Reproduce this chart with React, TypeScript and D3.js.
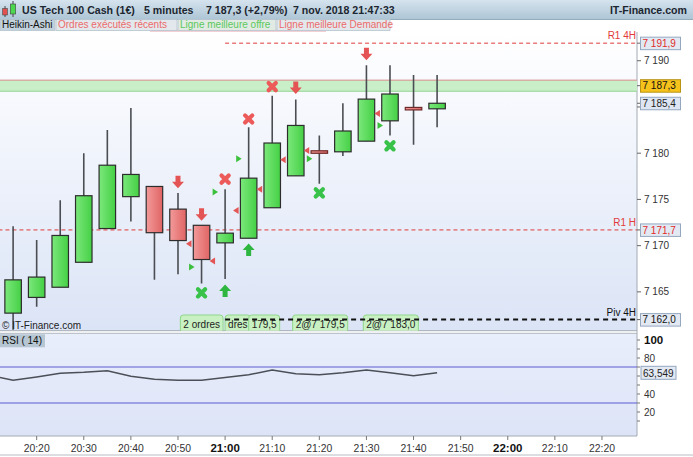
import * as d3 from 'd3';
import { useEffect, useRef } from 'react';

const WIDTH = 693;
const HEIGHT = 457;

// Heikin-Ashi candles, 5 minutes
const candleTimes = ['20:15', '20:20', '20:25', '20:30', '20:35', '20:40', '20:45', '20:50', '20:55', '21:00', '21:05', '21:10', '21:15', '21:20', '21:25', '21:30', '21:35', '21:40', '21:45'];
const openValues = [7162.7, 7164.4, 7165.5, 7168.2, 7171.85, 7175.3, 7176.4, 7173.95, 7172.2, 7170.3, 7170.8, 7174.1, 7177.55, 7180.26, 7180.15, 7181.3, 7183.5, 7184.95, 7184.8];
const highValues = [7172.1, 7170.6, 7174.9, 7180.0, 7182.5, 7184.9, 7176.4, 7175.7, 7172.2, 7176.1, 7182.8, 7186.2, 7185.8, 7181.9, 7185.4, 7189.5, 7189.5, 7188.45, 7188.45];
const lowValues = [7160.9, 7163.4, 7165.5, 7168.2, 7171.85, 7172.6, 7166.3, 7166.9, 7165.9, 7166.4, 7170.8, 7174.1, 7177.55, 7176.7, 7179.7, 7181.3, 7181.9, 7180.9, 7182.8];
const closeValues = [7166.3, 7166.6, 7171.1, 7175.4, 7178.7, 7177.7, 7171.4, 7170.55, 7168.5, 7171.35, 7177.3, 7181.1, 7183.0, 7180.0, 7182.4, 7185.85, 7186.4, 7184.7, 7185.4];

// RSI (14)
const rsiTimes = ['20:10', ...candleTimes];
const rsiValues = [60.8, 55.2, 58.9, 63.0, 64.1, 65.9, 59.7, 56.3, 55.2, 55.2, 58.3, 61.4, 66.7, 62.6, 61.4, 63.7, 66.7, 63.7, 60.3, 63.549];
const rsiBands = [70, 30];
const rsiTicks = [10, 20, 30, 40, 50, 60, 70, 80, 90, 100];
const rsiTickLabels = [100, 80, 40, 20];

const priceTicks = [7165, 7170, 7175, 7180, 7185, 7190];
const priceTickLabels = [7165, 7170, 7175, 7180, 7190]; // 7 185 sits under the last close box

// order markers
const sellArrowTimes = ['20:50', '20:55', '21:15', '21:30'];
const sellArrowPrices = [7176.8, 7173.3, 7187.0, 7190.65];
const buyArrowTimes = ['21:00', '21:05'];
const buyArrowPrices = [7165.2, 7169.65];
const redCrossTimes = ['21:00', '21:05', '21:10'];
const redCrossPrices = [7177.2, 7183.7, 7187.2];
const greenCrossTimes = ['20:55', '21:20', '21:35'];
const greenCrossPrices = [7164.9, 7175.7, 7180.8];
const buyTriTimes = ['20:55', '21:00', '21:05', '21:20', '21:35'];
const buyTriPrices = [7167.7, 7175.8, 7179.4, 7179.4, 7183.0];
const sellTriTimes = ['20:50', '20:55', '21:00', '21:05', '21:10', '21:15', '21:30'];
const sellTriPrices = [7170.2, 7168.35, 7173.8, 7176.1, 7179.3, 7180.3, 7184.3];

const orderTimes = ['20:50:30', '21:00', '21:05', '21:14:20', '21:29:20'];
const orderLabels = ['2 ordres', 'dres', '179,5', '2@7 179,5', '2@7 183,0'];

// levels
const levelNames = ['R1 4H', 'R1 H', 'Piv 4H'];
const levelValues = [7191.9, 7171.7, 7162.0];
const levelStarts = ['21:00', '20:00', '21:00'];
const bestAsk = 7187.9;
const bestBid = 7186.7;
const lastPrice = 7187.3;
const lastClose = 7185.4;
const lastRsi = 63.549;

const locale = d3.formatLocale({ decimal: ',', thousands: '\u00a0', grouping: [3], currency: ['', ''] });
const fmtTick = locale.format(',.0f');
const fmtPrice = locale.format(',.1f');
const fmtRsi = locale.format('.3f');

const parseTime = (s: string) =>
  d3.timeParse('%Y-%m-%d %H:%M:%S')('2018-11-07 ' + (s.length === 5 ? s + ':00' : s)) as Date;

const FONT = "'Liberation Sans', Arial, sans-serif";

function App() {
  const svgElement = useRef<SVGSVGElement | null>(null);

  useEffect(() => {
    document.body.style.margin = '0';
    const svg = d3.select(svgElement.current);
    svg.selectAll('*').remove();

    const plotRight = 637;
    const priceTop = 30;
    const priceBottom = 330.7;
    const rsiTop = 333.3;
    const rsiBottom = 436;

    const x = d3.scaleTime().domain([parseTime('20:12:13'), parseTime('22:27:26')]).range([0, plotRight]);
    const y = d3.scaleLinear().domain([7160.8, 7193.0]).range([priceBottom, 33]);
    const ry = d3.scaleLinear().domain([0, 100]).range([430, 340]);

    const defs = svg.append('defs');
    const grad = (id: string, stops: [string, string], horizontal = false) => {
      const g = defs.append('linearGradient').attr('id', id)
        .attr('x1', 0).attr('y1', 0).attr('x2', horizontal ? 1 : 0).attr('y2', horizontal ? 0 : 1);
      g.append('stop').attr('offset', '0%').attr('stop-color', stops[0]);
      g.append('stop').attr('offset', '100%').attr('stop-color', stops[1]);
    };
    grad('hdr', ['#d5e3ee', '#adc5d5']);
    grad('pricebg', ['#ffffff', '#dbe4f6']);
    grad('rsibg', ['#e9eefb', '#dde4f7']);
    grad('up', ['#7be87b', '#45d045'], true);
    grad('down', ['#f39a9a', '#e06464'], true);
    defs.append('clipPath').attr('id', 'priceClip')
      .append('rect').attr('x', 0).attr('y', priceTop).attr('width', plotRight).attr('height', priceBottom - priceTop);
    defs.append('clipPath').attr('id', 'rsiClip')
      .append('rect').attr('x', 0).attr('y', rsiTop).attr('width', plotRight).attr('height', rsiBottom - rsiTop);

    svg.append('rect').attr('width', WIDTH).attr('height', HEIGHT).attr('fill', '#ffffff');

    // Header
    svg.append('rect').attr('width', WIDTH).attr('height', 19.5).attr('fill', 'url(#hdr)');
    svg.append('line').attr('x1', 0).attr('x2', WIDTH).attr('y1', 19.5).attr('y2', 19.5).attr('stroke', '#93abbb');
    const icon = svg.append('g');
    icon.append('line').attr('x1', 5).attr('x2', 5).attr('y1', 6).attr('y2', 17).attr('stroke', '#444');
    icon.append('rect').attr('x', 2.7).attr('y', 8.5).attr('width', 4.6).attr('height', 6.5).attr('fill', '#e25050').attr('stroke', '#444').attr('stroke-width', 0.6);
    icon.append('line').attr('x1', 13).attr('x2', 13).attr('y1', 1).attr('y2', 17).attr('stroke', '#444');
    icon.append('rect').attr('x', 10.3).attr('y', 4).attr('width', 5.4).attr('height', 10).attr('fill', '#4cd84c').attr('stroke', '#444').attr('stroke-width', 0.6);

    const headerTexts: [string, number][] = [
      ['US Tech 100 Cash (1€)', 22],
      ['5 minutes', 144],
      [`${fmtPrice(lastPrice)} (+2,79%)`, 206],
      ['7 nov. 2018 21:47:33', 293],
    ];
    headerTexts.forEach(([t, tx]) => {
      svg.append('text').attr('x', tx).attr('y', 14).text(t)
        .attr('font-family', FONT).attr('font-size', 10.6).attr('font-weight', 700).attr('fill', '#1c2630');
    });
    svg.append('text').attr('x', 687).attr('y', 14).attr('text-anchor', 'end').text('IT-Finance.com')
      .attr('font-family', FONT).attr('font-size', 10.6).attr('font-weight', 700).attr('fill', '#1c2630');

    // legend tabs
    const tabs: [string, number, number, string, string][] = [
      ['Heikin-Ashi', 0, 55, '#111', '#c2d1db'],
      ['Ordres exécutés récents', 56, 177, '#ec6b6b', '#e3e8ec'],
      ['Ligne meilleure offre', 178, 276, '#5cc85c', '#e1ebe4'],
      ['Ligne meilleure Demande', 277, 390, '#ec6b6b', '#e3e8ec'],
    ];
    svg.append('rect').attr('x', 150).attr('y', 29).attr('width', 176).attr('height', 6).attr('rx', 3)
      .attr('fill', '#f0c4ca').attr('opacity', 0.8);
    tabs.forEach(([t, x0, x1, col, bg]) => {
      svg.append('rect').attr('x', x0).attr('y', 19.5).attr('width', x1 - x0).attr('height', 11)
        .attr('fill', bg).attr('stroke', '#b5c4ce').attr('stroke-width', 0.8);
      svg.append('text').attr('x', x0 + 2).attr('y', 28.3).text(t)
        .attr('font-family', FONT).attr('font-size', 10).attr('fill', col);
    });

    // panels
    svg.append('rect').attr('x', 0).attr('y', priceTop + 2).attr('width', plotRight).attr('height', priceBottom - priceTop - 2).attr('fill', 'url(#pricebg)');
    svg.append('rect').attr('x', 0).attr('y', rsiTop).attr('width', plotRight).attr('height', rsiBottom - rsiTop).attr('fill', 'url(#rsibg)');
    svg.append('line').attr('x1', 0).attr('x2', plotRight).attr('y1', priceBottom).attr('y2', priceBottom).attr('stroke', '#a3aab3');
    svg.append('line').attr('x1', 0).attr('x2', plotRight).attr('y1', rsiTop).attr('y2', rsiTop).attr('stroke', '#b0b7c0');
    svg.append('line').attr('x1', 0).attr('x2', plotRight).attr('y1', rsiBottom).attr('y2', rsiBottom).attr('stroke', '#a3aab3');
    svg.append('line').attr('x1', plotRight).attr('x2', plotRight).attr('y1', priceTop + 2).attr('y2', rsiBottom).attr('stroke', '#a3aab3');
    svg.append('line').attr('x1', 0).attr('x2', WIDTH).attr('y1', 455).attr('y2', 455).attr('stroke', '#b8bcc2');

    const price = svg.append('g').attr('clip-path', 'url(#priceClip)');

    // bid / ask band
    price.append('rect').attr('x', 0).attr('y', y(bestAsk)).attr('width', plotRight).attr('height', y(bestBid) - y(bestAsk))
      .attr('fill', '#c9efc9');
    price.append('line').attr('x1', 0).attr('x2', plotRight).attr('y1', y(bestAsk)).attr('y2', y(bestAsk)).attr('stroke', '#d98c8c');
    price.append('line').attr('x1', 0).attr('x2', plotRight).attr('y1', y(bestBid)).attr('y2', y(bestBid)).attr('stroke', '#92d692');

    // red resistance lines
    [0, 1].forEach((i) => {
      price.append('line')
        .attr('x1', x(parseTime(levelStarts[i]))).attr('x2', plotRight)
        .attr('y1', y(levelValues[i])).attr('y2', y(levelValues[i]))
        .attr('stroke', '#e03c3c').attr('stroke-dasharray', '4,3');
    });

    // candles
    const candles = candleTimes.map((t, i) => ({
      t: parseTime(t), o: openValues[i], h: highValues[i], l: lowValues[i], c: closeValues[i],
    }));
    const bodyW = 16.5;
    price.selectAll('.wick').data(candles).join('line').attr('class', 'wick')
      .attr('x1', (d) => x(d.t)).attr('x2', (d) => x(d.t))
      .attr('y1', (d) => y(d.h)).attr('y2', (d) => y(d.l))
      .attr('stroke', '#4a4d52').attr('stroke-width', 1.6);
    price.selectAll('.body').data(candles).join('rect').attr('class', 'body')
      .attr('x', (d) => x(d.t) - bodyW / 2)
      .attr('y', (d) => y(Math.max(d.o, d.c)))
      .attr('width', bodyW)
      .attr('height', (d) => Math.max(2.5, Math.abs(y(d.o) - y(d.c))))
      .attr('fill', (d) => (d.c >= d.o ? 'url(#up)' : 'url(#down)'))
      .attr('stroke', (d) => (d.c >= d.o ? '#2d2d2d' : Math.abs(d.o - d.c) < 0.5 ? '#6e2a2a' : '#2d2d2d'))
      .attr('stroke-width', 1.2);

    // markers
    const pts = (times: string[], prices: number[]) => times.map((t, i) => ({ x: x(parseTime(t)), y: y(prices[i]) }));
    pts(sellArrowTimes, sellArrowPrices).forEach((p) => {
      price.append('path')
        .attr('d', `M${p.x - 2.5},${p.y - 7}h5v6h3.5l-6,6.5l-6,-6.5h3.5z`)
        .attr('fill', '#e55454');
    });
    pts(buyArrowTimes, buyArrowPrices).forEach((p) => {
      price.append('path')
        .attr('d', `M${p.x - 2.5},${p.y + 7}h5v-6h3.5l-6,-6.5l-6,6.5h3.5z`)
        .attr('fill', '#2fb640');
    });
    const cross = (p: { x: number; y: number }, col: string) => {
      price.append('path')
        .attr('d', `M${p.x - 3.6},${p.y - 3.6}L${p.x + 3.6},${p.y + 3.6}M${p.x + 3.6},${p.y - 3.6}L${p.x - 3.6},${p.y + 3.6}`)
        .attr('stroke', col).attr('stroke-width', 4.2).attr('stroke-linecap', 'round');
    };
    pts(redCrossTimes, redCrossPrices).forEach((p) => cross(p, '#ec5a5a'));
    pts(greenCrossTimes, greenCrossPrices).forEach((p) => cross(p, '#38c24a'));
    pts(buyTriTimes, buyTriPrices).forEach((p) => {
      const cx = p.x - 10;
      price.append('path').attr('d', `M${cx - 2.5},${p.y - 3.5}L${cx + 3},${p.y}L${cx - 2.5},${p.y + 3.5}z`).attr('fill', '#3cc03c');
    });
    pts(sellTriTimes, sellTriPrices).forEach((p) => {
      const cx = p.x + 11;
      price.append('path').attr('d', `M${cx + 2.5},${p.y - 3.5}L${cx - 3},${p.y}L${cx + 2.5},${p.y + 3.5}z`).attr('fill', '#e45656');
    });

    // watermark
    price.append('text').attr('x', 2).attr('y', 328.5).text('© IT-Finance.com')
      .attr('font-family', FONT).attr('font-size', 10).attr('fill', '#222');

    // recent orders boxes
    orderTimes.forEach((t, i) => {
      const g = price.append('g');
      const bx = x(parseTime(t));
      const rect = g.append('rect');
      const txt = g.append('text').attr('x', bx + 3).attr('y', 327.5).text(orderLabels[i])
        .attr('font-family', FONT).attr('font-size', 10).attr('fill', '#1d1d1d');
      const w = (txt.node() as SVGTextElement).getComputedTextLength() + 6;
      rect.attr('x', bx).attr('y', 315).attr('width', w).attr('height', 18).attr('rx', 3)
        .attr('fill', '#c8f0c2').attr('stroke', '#8fd68a');
    });

    // pivot line (over boxes)
    price.append('line')
      .attr('x1', x(parseTime(levelStarts[2]))).attr('x2', plotRight)
      .attr('y1', y(levelValues[2])).attr('y2', y(levelValues[2]))
      .attr('stroke', '#111').attr('stroke-width', 2).attr('stroke-dasharray', '5,4');

    // level names
    levelNames.forEach((n, i) => {
      svg.append('text').attr('x', plotRight - 1).attr('y', y(levelValues[i]) - 4).attr('text-anchor', 'end').text(n)
        .attr('font-family', FONT).attr('font-size', 10).attr('fill', i < 2 ? '#e23a3a' : '#111');
    });

    // price axis
    const axisText = (g: d3.Selection<any, unknown, null, undefined>, tx: number, ty: number, t: string, col = '#333', weight = 400, size = 10) =>
      g.append('text').attr('x', tx).attr('y', ty).attr('dy', '0.35em').text(t)
        .attr('font-family', FONT).attr('font-size', size).attr('font-weight', weight).attr('fill', col);
    priceTicks.forEach((v) => {
      svg.append('line').attr('x1', plotRight).attr('x2', plotRight + 4).attr('y1', y(v)).attr('y2', y(v)).attr('stroke', '#666');
    });
    priceTickLabels.forEach((v) => axisText(svg, 644, y(v), fmtTick(v)));
    const valueBox = (cy: number, col: string, fill: string, stroke: string, text: string) => {
      svg.append('line').attr('x1', plotRight).attr('x2', plotRight + 4).attr('y1', cy).attr('y2', cy).attr('stroke', '#666');
      svg.append('rect').attr('x', 640.5).attr('y', cy - 6).attr('width', 40).attr('height', 12.5)
        .attr('fill', fill).attr('stroke', stroke);
      axisText(svg, 642.5, cy + 0.3, text, col);
    };
    valueBox(y(levelValues[0]), '#e02a2a', '#e3e9f2', '#94a7bf', fmtPrice(levelValues[0]));
    valueBox(y(lastPrice), '#111', '#f6c21c', '#b89416', fmtPrice(lastPrice));
    valueBox(y(lastClose), '#222', '#dde6f2', '#94a7bf', fmtPrice(lastClose));
    valueBox(y(levelValues[1]), '#e02a2a', '#e3e9f2', '#94a7bf', fmtPrice(levelValues[1]));
    valueBox(y(levelValues[2]), '#111', '#e3e9f2', '#94a7bf', fmtPrice(levelValues[2]));

    // RSI panel
    const rsi = svg.append('g').attr('clip-path', 'url(#rsiClip)');
    rsiBands.forEach((b) => {
      rsi.append('line').attr('x1', 0).attr('x2', plotRight).attr('y1', ry(b)).attr('y2', ry(b))
        .attr('stroke', '#5c5cd2').attr('stroke-width', 1.2);
    });
    const rsiLine = d3.line<number>().x((_, i) => x(parseTime(rsiTimes[i]))).y((d) => ry(d));
    rsi.append('path').attr('d', rsiLine(rsiValues)).attr('fill', 'none')
      .attr('stroke', '#4b4f58').attr('stroke-width', 1.5);
    svg.append('rect').attr('x', 0).attr('y', rsiTop + 1).attr('width', 45).attr('height', 13).attr('fill', '#b6c6d2');
    svg.append('text').attr('x', 2).attr('y', rsiTop + 11).text('RSI ( 14)')
      .attr('font-family', FONT).attr('font-size', 10).attr('fill', '#111');

    rsiTicks.forEach((v) => {
      svg.append('line').attr('x1', plotRight).attr('x2', plotRight + 3).attr('y1', ry(v)).attr('y2', ry(v)).attr('stroke', '#777');
    });
    rsiTickLabels.forEach((v) => {
      if (v === 100) axisText(svg, 644, ry(v), String(v), '#111', 700, 11.5);
      else axisText(svg, 644, ry(v), String(v));
    });
    svg.append('rect').attr('x', 641).attr('y', ry(lastRsi) - 6.5).attr('width', 35).attr('height', 13)
      .attr('fill', '#e3e9f2').attr('stroke', '#94a7bf');
    axisText(svg, 643, ry(lastRsi) + 0.3, fmtRsi(lastRsi), '#222');

    // time axis
    const timeTicks = x.ticks(d3.timeMinute.every(10)!);
    timeTicks.forEach((t) => {
      const tx = x(t);
      const major = t.getMinutes() === 0;
      svg.append('line').attr('x1', tx).attr('x2', tx).attr('y1', rsiBottom).attr('y2', rsiBottom + 4).attr('stroke', '#777');
      svg.append('text').attr('x', tx).attr('y', 451.5).attr('text-anchor', 'middle').text(d3.timeFormat('%H:%M')(t))
        .attr('font-family', FONT).attr('font-size', major ? 11.5 : 10.4).attr('font-weight', major ? 700 : 400)
        .attr('fill', major ? '#111' : '#333');
    });
  }, []);

  return (
    <svg
      ref={svgElement}
      width={WIDTH}
      height={HEIGHT}
      style={{ display: 'block', position: 'absolute', left: 0, top: 0 }}
    />
  );
}

export default App;
